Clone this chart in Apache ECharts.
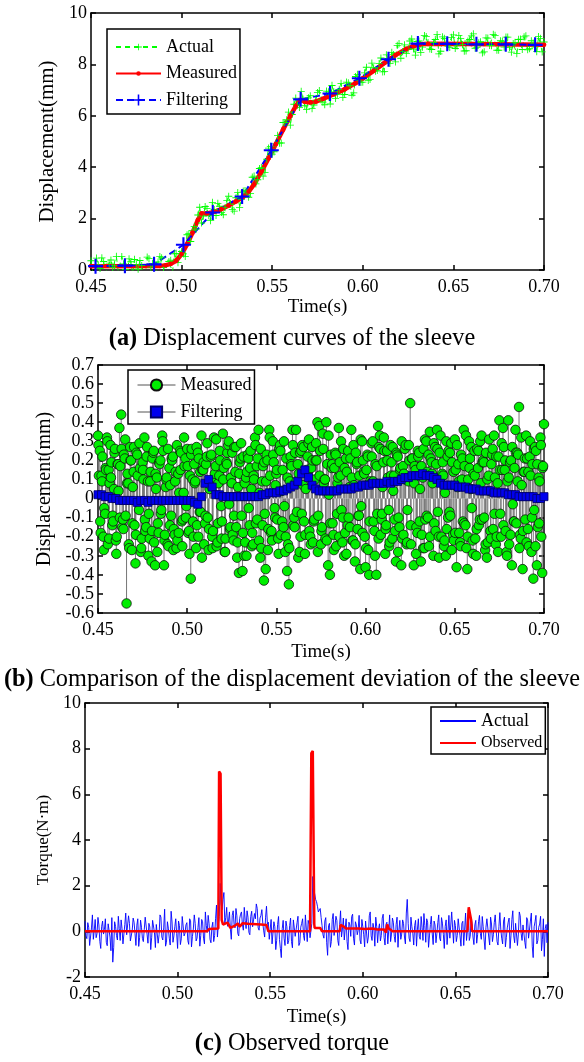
<!DOCTYPE html>
<html>
<head>
<meta charset="UTF-8">
<title>Sleeve displacement and observed torque</title>
<style>
  * { margin: 0; padding: 0; }
  html, body { width: 100%; height: 100%; background: #fff; overflow: hidden; }
  #main { width: 584px; height: 1062px; }
</style>
</head>
<body>
<div id="main"></div>
<script src="https://cdn.jsdelivr.net/npm/echarts@6/dist/echarts.min.js"></script>
<script>
// ---- (a) displacement curves ----
// actual displacement, one sample every 1 ms from 0.45 s
var actualDisp = [
  0.36, -0.11, -0.03, 0.46, 0.20, 0.06, 0.47, 0.33, -0.12, -0.19,
  0.27, 0.39, 0.10, 0.17, 0.53, -0.04, -0.07, 0.52, 0.24, 0.02,
  -0.16, 0.43, 0.32, -0.16, 0.41, 0.21, 0.03, 0.37, 0.17, -0.10,
  -0.20, 0.50, 0.44, 0.11, 0.26, -0.14, -0.04, 0.31, 0.52, 0.47,
  0.10, -0.01, -0.08, 0.33, 0.38, -0.08, 0.63, 0.65, 0.29, 0.63,
  0.72, 0.63, 0.53, 1.37, 1.41, 1.11, 1.54, 1.69, 1.59, 2.14,
  2.44, 1.83, 2.10, 2.47, 2.39, 2.11, 1.92, 2.63, 2.35, 2.12,
  2.59, 2.48, 2.24, 2.15, 2.43, 2.70, 2.87, 2.56, 2.35, 2.29,
  2.81, 3.01, 2.43, 2.75, 3.07, 3.09, 3.04, 2.83, 2.98, 3.61,
  3.65, 3.35, 3.51, 3.95, 3.98, 3.65, 3.79, 4.31, 4.74, 4.81,
  4.51, 4.60, 4.91, 5.24, 4.94, 4.94, 5.74, 5.74, 5.84, 6.14,
  5.64, 6.05, 6.45, 6.69, 6.41, 6.33, 6.95, 6.65, 6.39, 6.24,
  6.70, 6.78, 6.28, 6.42, 6.60, 6.90, 6.98, 6.62, 6.53, 6.43,
  6.96, 6.93, 6.46, 7.18, 6.93, 6.68, 6.84, 7.03, 7.26, 6.72,
  6.83, 7.31, 7.28, 7.17, 6.80, 6.89, 7.53, 7.61, 7.36, 7.30,
  7.31, 7.67, 7.89, 7.38, 7.42, 8.05, 7.87, 7.74, 7.77, 8.03,
  8.25, 7.71, 7.72, 8.37, 8.23, 8.04, 8.47, 8.38, 8.10, 8.74,
  8.81, 8.24, 8.50, 8.76, 8.42, 8.59, 8.91, 8.99, 8.60, 8.36,
  8.89, 8.91, 8.47, 8.67, 9.12, 9.08, 8.85, 8.60, 8.58, 8.86,
  8.97, 9.16, 8.41, 8.51, 9.07, 9.01, 8.82, 8.71, 8.66, 9.05,
  9.15, 8.62, 8.72, 9.12, 9.00, 8.77, 8.52, 8.53, 8.91, 8.97,
  9.11, 9.19, 8.63, 8.65, 8.84, 8.88, 8.45, 8.49, 9.03, 9.02,
  8.74, 8.73, 9.17, 9.13, 8.55, 8.55, 8.92, 8.90, 8.67, 9.06,
  9.06, 8.65, 8.48, 8.81, 8.86, 8.42, 8.97, 8.98, 8.58, 9.07,
  9.11, 8.57, 8.61, 8.92, 8.83, 8.67, 8.50, 9.08, 9.01, 8.49,
  8.87
];
// measured displacement [time, mm]
var measuredDisp = [
  [0.45, 0.15], [0.488, 0.16], [0.491, 0.18], [0.494, 0.24], [0.497, 0.36],
  [0.500, 0.62], [0.503, 1.0], [0.506, 1.45], [0.509, 1.95], [0.511, 2.2],
  [0.514, 2.2], [0.518, 2.26], [0.522, 2.37], [0.526, 2.51], [0.530, 2.67],
  [0.534, 2.85], [0.537, 3.05], [0.540, 3.33], [0.544, 3.82], [0.548, 4.35],
  [0.552, 4.9], [0.556, 5.46], [0.560, 6.0], [0.563, 6.38], [0.5655, 6.62],
  [0.568, 6.55], [0.571, 6.52], [0.574, 6.55], [0.578, 6.66], [0.584, 6.84],
  [0.590, 7.03], [0.596, 7.27], [0.600, 7.46], [0.606, 7.75], [0.612, 8.06],
  [0.618, 8.36], [0.624, 8.6], [0.628, 8.71], [0.632, 8.78], [0.636, 8.8],
  [0.660, 8.79], [0.700, 8.76]
];
// filtered displacement [time, mm]
var filterDisp = [
  [0.4525, 0.15], [0.4687, 0.17], [0.4848, 0.22], [0.5010, 0.98],
  [0.5172, 2.24], [0.5334, 2.86], [0.5495, 4.66], [0.5657, 6.64],
  [0.5819, 6.87], [0.5981, 7.46], [0.6142, 8.2], [0.6304, 8.81],
  [0.6466, 8.8], [0.6627, 8.78], [0.6789, 8.78], [0.6951, 8.76]
];

// ---- (b) displacement deviation ----
// measured deviation on whole milliseconds from 0.450 s
var devMeasured = [
  0.33, 0.25, 0.12, -0.20, -0.08, 0.32, 0.15, 0.28, -0.14, 0.05,
  -0.22, 0.18, 0.37, 0.44, -0.11, 0.21, -0.55, 0.08, 0.27, -0.27,
  0.14, -0.34, 0.23, -0.06, -0.28, 0.19, 0.32, -0.15, 0.09, -0.21,
  -0.33, 0.24, -0.35, 0.11, -0.18, 0.20, 0.33, -0.35, 0.06, -0.24,
  0.16, -0.09, 0.22, -0.19, -0.26, 0.13, 0.25, -0.12, 0.03, 0.21,
  0.26, -0.17, -0.42, 0.10, 0.18, -0.26, 0.24, -0.07, 0.33, 0.15,
  -0.13, 0.22, -0.27, 0.07, -0.20, 0.32, 0.17, -0.23, 0.12, -0.04,
  0.34, -0.28, 0.19, 0.28, -0.16, 0.08, -0.22, 0.14, -0.31, -0.39,
  0.21, -0.38, -0.30, 0.11, 0.23, -0.14, 0.05, -0.24, 0.32, 0.17,
  0.36, -0.31, 0.09, -0.43, -0.37, 0.20, 0.36, -0.18, 0.30, -0.05,
  0.13, -0.21, 0.28, 0.04, -0.15, -0.28, -0.38, -0.45, 0.22, 0.36,
  -0.10, 0.36, 0.18, -0.28, 0.25, 0.07, -0.29, 0.15, 0.29, -0.20,
  0.27, -0.12, 0.20, 0.40, 0.38, -0.24, 0.34, 0.10, 0.40, -0.35,
  -0.40, 0.16, -0.19, 0.24, -0.08, 0.37, 0.12, -0.23, -0.30, 0.21,
  -0.14, 0.06, 0.36, -0.22, -0.33, 0.18, -0.09, -0.37, 0.30, 0.14,
  -0.36, 0.23, -0.40, 0.08, 0.30, -0.17, -0.40, 0.38, 0.33, -0.11,
  0.19, -0.29, 0.25, -0.06, 0.28, -0.21, 0.12, -0.33, 0.22, -0.15,
  -0.35, 0.17, 0.26, -0.24, 0.09, 0.50, 0.21, -0.35, 0.15, -0.18,
  0.24, -0.33, 0.11, -0.26, 0.30, -0.10, 0.35, 0.19, -0.30, 0.27,
  0.36, -0.20, 0.33, 0.13, -0.25, -0.30, 0.22, -0.07, 0.29, -0.19,
  0.31, -0.36, 0.18, -0.23, 0.10, 0.36, -0.14, -0.37, 0.30, 0.05,
  -0.22, 0.25, -0.30, 0.16, -0.11, 0.33, 0.20, -0.27, -0.31, 0.12,
  -0.17, 0.23, 0.33, -0.24, 0.08, 0.41, -0.20, 0.37, 0.15, -0.28,
  0.41, 0.19, -0.35, -0.12, 0.36, 0.24, 0.48, -0.21, -0.37, 0.14,
  0.33, -0.16, 0.22, -0.28, -0.42, 0.27, -0.35, 0.11, 0.32, -0.39,
  0.39
];
// measured deviation a quarter millisecond later (from 0.45025 s)
var devMeasuredQ1 = [
  0.28, -0.12, 0.09, -0.27, 0.16, 0.30, -0.21, 0.11, -0.09, 0.24,
  -0.29, 0.18, -0.10, 0.26, -0.16, 0.31, 0.08, -0.24, 0.20, -0.13,
  0.27, -0.19, 0.12, 0.29, -0.26, 0.15, -0.11, 0.22, -0.30, 0.09,
  -0.17, 0.25, 0.13, -0.28, 0.19, -0.08, 0.30, -0.22, 0.10, 0.26,
  -0.14, 0.21, -0.27, 0.09, 0.28, -0.18, 0.15, -0.25, 0.32, -0.10,
  0.17, -0.29, 0.23, -0.12, 0.08, 0.27, -0.20, 0.14, -0.31, 0.19,
  -0.09, 0.29, -0.16, 0.22, -0.26, 0.11, 0.31, -0.13, 0.25, -0.21,
  0.10, -0.28, 0.18, 0.30, -0.15, 0.24, -0.09, 0.27, -0.23, 0.13,
  0.29, -0.18, 0.08, -0.30, 0.21, 0.16, -0.25, 0.12, 0.28, -0.11,
  -0.22, 0.26, -0.14, 0.19, 0.09, -0.27, 0.32, -0.17, 0.23, -0.10,
  0.15, -0.29, 0.25, -0.12, 0.30, -0.20, 0.11, -0.26, 0.18, 0.28,
  -0.15, 0.09, -0.31, 0.24, -0.08, 0.27, -0.19, 0.14, 0.31, -0.24,
  0.20, -0.11, 0.29, -0.28, 0.12, -0.17, 0.26, 0.10, -0.22, 0.33,
  -0.13, 0.18, -0.27, 0.23, 0.08, -0.20, 0.30, -0.10, 0.16, -0.29,
  0.25, -0.15, 0.11, 0.28, -0.24, 0.19, -0.09, 0.31, -0.18, 0.13,
  -0.26, 0.22, -0.12, 0.29, 0.09, -0.30, 0.17, -0.21, 0.26, -0.08,
  0.32, -0.16, 0.20, -0.25, 0.12, 0.27, -0.11, 0.24, -0.28, 0.15,
  0.30, -0.19, 0.10, -0.23, 0.28, -0.14, 0.21, 0.08, -0.29, 0.25,
  -0.12, 0.17, -0.26, 0.31, -0.09, 0.23, -0.20, 0.13, 0.29, -0.17,
  0.26, -0.31, 0.11, 0.19, -0.22, 0.30, -0.10, 0.24, -0.27, 0.14,
  -0.18, 0.28, 0.09, -0.25, 0.21, -0.13, 0.33, -0.20, 0.16, 0.27,
  -0.29, 0.12, -0.16, 0.25, 0.30, -0.11, 0.19, -0.24, 0.10, 0.31,
  -0.21, 0.26, -0.08, 0.22, -0.28, 0.15, 0.29, -0.14, 0.20, -0.30,
  0.11, -0.19, 0.27, -0.12, 0.24, 0.09, -0.26, 0.32, -0.17, 0.21,
  -0.23, 0.14, 0.30, -0.10, 0.26, -0.25, 0.18, -0.13, 0.28, 0.16
];
// measured deviation on half milliseconds (from 0.4505 s)
var devMeasuredHalf = [
  0.12, -0.18, 0.22, -0.05, 0.15, -0.24, 0.08, 0.19, -0.12, 0.26,
  -0.20, 0.04, 0.17, -0.15, 0.23, -0.09, 0.13, -0.26, 0.20, 0.06,
  -0.14, 0.24, -0.02, 0.16, -0.21, 0.10, -0.17, 0.27, -0.08, 0.14,
  0.21, -0.23, 0.05, -0.13, 0.18, -0.06, 0.25, -0.19, 0.11, -0.25,
  0.07, 0.20, -0.16, 0.14, -0.22, 0.03, 0.24, -0.11, 0.17, -0.04,
  -0.18, 0.12, 0.26, -0.20, 0.09, -0.14, 0.21, -0.07, 0.15, -0.24,
  0.18, -0.10, 0.05, 0.23, -0.17, 0.13, -0.25, 0.08, 0.20, -0.12,
  0.16, -0.21, 0.24, -0.03, 0.11, -0.19, 0.27, -0.15, 0.06, 0.19,
  -0.09, 0.22, -0.23, 0.14, -0.05, 0.25, -0.18, 0.10, -0.13, 0.21,
  0.03, -0.26, 0.17, -0.08, 0.23, -0.16, 0.12, -0.22, 0.19, 0.07,
  -0.11, 0.26, -0.19, 0.15, -0.04, 0.21, -0.24, 0.09, 0.17, -0.14,
  0.24, -0.07, 0.13, -0.20, 0.28, -0.12, 0.05, 0.22, -0.17, 0.16,
  -0.23, 0.10, 0.20, -0.09, 0.25, -0.15, 0.08, -0.21, 0.18, 0.02,
  0.23, -0.13, 0.16, -0.25, 0.11, 0.19, -0.06, 0.26, -0.18, 0.14,
  -0.10, 0.21, -0.22, 0.07, 0.24, -0.16, 0.12, -0.04, 0.20, -0.20,
  0.15, -0.27, 0.09, 0.22, -0.12, 0.18, -0.08, 0.27, -0.19, 0.06,
  0.25, -0.14, 0.11, -0.23, 0.19, 0.04, -0.17, 0.23, -0.10, 0.16,
  -0.21, 0.13, 0.28, -0.06, 0.20, -0.24, 0.10, 0.17, -0.15, 0.22,
  0.05, -0.19, 0.26, -0.11, 0.14, -0.25, 0.21, 0.08, -0.13, 0.18,
  -0.07, 0.24, -0.20, 0.12, 0.03, -0.16, 0.25, -0.09, 0.19, -0.22,
  0.15, 0.06, -0.18, 0.23, -0.12, 0.17, -0.26, 0.10, 0.21, -0.05,
  0.13, -0.21, 0.26, -0.14, 0.08, 0.19, -0.10, 0.24, -0.23, 0.04,
  0.18, -0.16, 0.11, -0.20, 0.22, -0.08, 0.15, 0.27, -0.17, 0.09,
  -0.24, 0.20, -0.03, 0.16, -0.13, 0.23, -0.19, 0.07, 0.14, -0.11,
  0.21, -0.25, 0.12, 0.18, -0.06, 0.25, -0.15, 0.09, -0.20, 0.17
];
// filtered deviation, every 2 ms from 0.45 s
var devFiltered = [
  0.02, 0.02, 0.01, 0.01, 0.00, 0.00, -0.01, -0.01, -0.01, -0.01,
  -0.01, -0.02, -0.01, -0.01, -0.02, -0.01, -0.01, -0.01, -0.01, -0.01,
  -0.01, -0.01, -0.01, -0.01, -0.01, -0.01, -0.01, -0.02, -0.03, 0.01,
  0.08, 0.10, 0.06, 0.02, 0.02, 0.01, 0.01, 0.01, 0.01, 0.01,
  0.01, 0.01, 0.01, 0.01, 0.01, 0.01, 0.02, 0.02, 0.03, 0.03,
  0.03, 0.04, 0.04, 0.05, 0.06, 0.07, 0.09, 0.13, 0.15, 0.11,
  0.07, 0.05, 0.04, 0.04, 0.04, 0.04, 0.04, 0.04, 0.05, 0.05,
  0.05, 0.05, 0.06, 0.06, 0.07, 0.07, 0.07, 0.08, 0.08, 0.08,
  0.08, 0.09, 0.08, 0.09, 0.09, 0.10, 0.11, 0.11, 0.12, 0.12,
  0.12, 0.13, 0.12, 0.12, 0.11, 0.10, 0.08, 0.07, 0.07, 0.07,
  0.07, 0.06, 0.06, 0.06, 0.05, 0.05, 0.05, 0.04, 0.04, 0.04,
  0.04, 0.03, 0.03, 0.03, 0.03, 0.02, 0.02, 0.02, 0.01, 0.01,
  0.01, 0.01, 0.01, 0.00, 0.00, 0.01
];

// ---- (c) torque ----
// actual torque on whole milliseconds from 0.450 s
var torqueActual = [
  0.45, -0.32, 0.18, -0.55, 0.72, 0.05, -0.28, 0.61, -0.44, 0.22,
  -0.12, 0.55, -0.63, 0.31, -0.85, -1.35, 0.42, -0.18, 0.66, -0.40,
  0.12, -0.58, 0.80, -0.22, 0.35, -0.47, 0.58, -0.10, 0.27, -0.66,
  0.49, -0.31, 0.08, 0.70, -0.52, 0.19, -0.26, 0.53, -0.71, 0.34,
  -0.15, 0.62, -0.38, 0.97, -0.48, 0.14, -0.60, 0.41, -0.20, 0.55,
  -0.75, 0.25, -0.33, 0.64, -0.09, 0.38, -0.57, 0.46, -0.23, 0.72,
  -0.42, 0.17, -0.65, 0.52, -0.30, 0.85, -0.05, 0.33, -0.50, 0.40,
  -0.18, 1.15, 0.28, 2.10, 0.95, 1.70, 0.60, 0.22, 0.85, -0.35,
  0.90, 0.15, 0.68, -0.20, 0.75, 0.30, 1.05, 0.12, 0.62, -0.15,
  0.88, 0.25, 0.55, 1.00, 0.05, 0.70, 0.35, -0.25, 1.10, 0.40,
  0.10, -0.55, 0.42, -0.80, 0.30, -0.35, -1.15, 0.48, -0.62, 0.20,
  -0.40, 0.58, -0.72, 0.15, -0.28, 0.66, -0.50, 0.35, -0.18, 0.72,
  -0.45, 0.30, -0.20, 2.40, 1.65, 1.30, 0.85, 1.00, 0.25, -0.30,
  0.60, -1.05, 0.35, -0.45, 0.78, -0.20, 0.48, -0.62, 0.90, 0.10,
  -0.38, 0.55, -0.80, 0.28, 0.65, -0.30, 0.42, -0.15, 0.70, -0.55,
  0.20, -0.68, 0.50, -0.25, 0.85, -0.40, 0.12, 0.62, -0.50, 0.33,
  -0.18, 0.75, -0.60, 0.40, 0.05, -0.45, 0.58, -0.22, 0.30, -0.70,
  0.48, -0.12, 0.35, -0.55, 1.40, -0.30, 0.62, -0.08, 0.25, -0.65,
  0.55, -0.35, 0.18, 0.78, -0.48, 0.40, -0.20, 0.66, -0.58, 0.28,
  -0.10, 0.72, -0.42, 0.36, -0.75, 0.50, 0.02, -0.30, 0.85, -0.52,
  0.25, -0.18, 0.62, -0.65, 0.44, 0.10, -0.40, 0.95, -0.22, 0.35,
  -0.58, 0.48, -0.15, 0.70, -0.35, 0.20, -0.80, 0.55, -0.25, 0.62,
  -0.45, 0.38, 0.05, -0.60, 0.82, -0.30, 0.45, -0.68, 0.15, 0.58,
  -0.20, 0.90, -0.50, 0.32, -0.12, 0.68, -0.40, 0.25, -0.75, 0.50,
  -0.28, 0.80, -1.15, 0.42, -0.55, 0.18, 0.66, -0.35, -1.10, 0.30,
  0.40
];
// actual torque on half milliseconds from 0.4505 s
var torqueActualHalf = [
  -0.20, 0.38, -0.62, 0.15, -0.35, 0.52, -0.10, 0.28, -0.75, 0.45,
  0.08, -0.48, 0.33, -0.25, 0.60, -0.70, 0.22, -0.38, 0.12, 0.50,
  -0.55, 0.30, -0.15, 0.68, -0.42, 0.05, 0.40, -0.62, 0.55, -0.28,
  0.18, -0.45, 0.62, -0.12, 0.35, -0.80, 0.48, -0.05, 0.30, -0.52,
  0.72, -0.25, 0.15, -0.65, 0.42, -0.30, 0.88, -0.48, 0.20, -0.10,
  0.45, -0.58, 0.65, -0.20, 0.28, -0.40, 0.55, -0.68, 0.10, 0.35,
  -0.30, 0.60, -0.18, 0.42, -0.55, 0.25, 0.70, -0.35, 0.18, -0.45,
  0.55, -0.25, 0.65, 1.20, 1.40, 0.35, 1.05, 0.45, 0.10, 0.70,
  0.30, 1.00, -0.10, 0.55, 0.85, 0.05, 0.48, 0.90, -0.05, 0.65,
  0.20, 0.78, 1.20, 0.15, 0.58, 0.95, 0.02, 0.62, 0.30, -0.35,
  0.52, -0.60, 0.20, -0.40, 0.65, -0.75, 0.12, -0.30, 0.45, -0.55,
  0.25, -0.45, 0.50, -0.22, 0.38, -0.62, 0.18, 0.55, -0.40, 0.10,
  0.48, -0.28, 0.35, 1.80, 1.40, 1.10, 0.90, 0.60, -0.15, 0.45,
  -0.50, 0.25, -0.70, 0.52, -0.18, 0.66, -0.40, 0.30, -0.25, 0.58,
  0.12, -0.45, 0.40, -0.22, 0.75, -0.60, 0.28, 0.05, -0.38, 0.52,
  -0.15, 0.45, -0.52, 0.68, -0.20, 0.35, -0.65, 0.22, 0.10, -0.42,
  0.58, -0.28, 0.30, -0.55, 0.72, -0.12, 0.40, -0.48, 0.62, 0.05,
  -0.35, 0.50, -0.25, 0.80, 0.35, -0.45, 0.20, -0.60, 0.48, 0.10,
  -0.22, 0.65, -0.40, 0.25, 0.55, -0.70, 0.30, -0.12, 0.45, -0.50,
  0.38, -0.30, 0.60, -0.15, 0.22, -0.58, 0.70, -0.35, 0.15, 0.48,
  -0.45, 0.55, -0.20, 0.35, -0.62, 0.80, 0.05, -0.40, 0.60, -0.25,
  0.28, -0.52, 0.42, -0.10, 0.65, -0.38, 0.18, 0.50, -0.60, 0.32,
  -0.15, 0.72, -0.45, 0.22, 0.10, -0.55, 0.62, -0.28, 0.40, -0.75,
  0.52, -0.20, 0.35, -0.62, 0.85, -0.10, 0.28, -0.48, 0.60, -0.30,
  0.45, -0.65, 0.20, 0.70, -0.40, 0.32, -0.85, 0.55, 0.12, -0.50
];
// observed torque [time, N·m]
var torqueObserved = [
  [0.45, 0], [0.516, 0], [0.517, 0.1], [0.522, 0.12], [0.5224, 7.0],
  [0.5232, 6.9], [0.5238, 0.5], [0.5245, 0.3], [0.527, 0.38], [0.5285, 0.15],
  [0.531, 0.25], [0.5325, 0.35], [0.5335, 0.2], [0.535, 0.35], [0.538, 0.33],
  [0.545, 0.3], [0.548, 0.28], [0.549, 0], [0.5715, 0], [0.5722, 7.8],
  [0.5730, 7.9], [0.5738, 0.3], [0.574, 0.15], [0.577, 0.15], [0.578, 0],
  [0.5875, 0], [0.588, 0.28], [0.5895, 0.22], [0.591, 0.12], [0.598, 0.12],
  [0.601, 0.1], [0.605, 0.12], [0.608, 0.08], [0.6115, 0.08], [0.6125, -0.05],
  [0.6132, 0.3], [0.614, 0.12], [0.616, 0], [0.6565, 0], [0.6572, 1.05],
  [0.6585, 0.5], [0.659, 0], [0.70, 0]
];

var FONT = 'Liberation Serif';

// pair regularly sampled values with their sample times
function withTime(values, step, start) {
  var t0 = start === undefined ? 0.45 : start;
  return values.map(function(v, i) {
    return [+(t0 + i * step).toFixed(5), v];
  });
}
function byTime(a, b) { return a[0] - b[0]; }

var devPoints = withTime(devMeasured, 0.001)
  .concat(withTime(devMeasuredQ1, 0.001, 0.45025), withTime(devMeasuredHalf, 0.001, 0.4505))
  .sort(byTime);
var torquePoints = withTime(torqueActual, 0.001)
  .concat(withTime(torqueActualHalf, 0.001, 0.4505)).sort(byTime);

// symbols: padded paths so legend and plot marks keep their relative size
var plusSmall = 'path://M0,0M20,20M9.3,4H10.7V16H9.3Z M4,9.3H16V10.7H4Z';
var plusBig = 'path://M8.6,0H11.4V20H8.6Z M0,8.6H20V11.4H0Z';
var dot = 'path://M0,0M20,20M6,10A4,4 0 1 1 14,10A4,4 0 1 1 6,10Z';

var blk = { color: '#000', width: 1.5 };

// bottom/left axes with labels plus mirrored top/right axes (MATLAB box)
function box(g, y, xGap, yName, yGap, yNameSize) {
  var tick = { inside: true, length: 5, lineStyle: blk };
  var xs = [{
    type: 'value', gridIndex: g, min: 0.45, max: 0.70, interval: 0.05,
    position: 'bottom',
    axisLine: { onZero: false, lineStyle: blk }, axisTick: tick,
    splitLine: { show: false },
    axisLabel: { color: '#000', fontFamily: FONT, fontSize: 18, margin: 8,
      formatter: function(v) { return v.toFixed(2); } },
    name: 'Time(s)', nameLocation: 'middle', nameGap: xGap,
    nameTextStyle: { color: '#000', fontFamily: FONT, fontSize: 19 }
  }, {
    type: 'value', gridIndex: g, min: 0.45, max: 0.70, interval: 0.05,
    position: 'top',
    axisLine: { onZero: false, lineStyle: blk }, axisTick: tick,
    splitLine: { show: false }, axisLabel: { show: false }
  }];
  var ys = [{
    type: 'value', gridIndex: g, min: y[0], max: y[1], interval: y[2],
    position: 'left',
    axisLine: { onZero: false, lineStyle: blk }, axisTick: tick,
    splitLine: { show: false },
    axisLabel: { color: '#000', fontFamily: FONT, fontSize: 18, margin: 4 },
    name: yName, nameLocation: 'middle', nameGap: yGap,
    nameTextStyle: { color: '#000', fontFamily: FONT, fontSize: yNameSize }
  }, {
    type: 'value', gridIndex: g, min: y[0], max: y[1], interval: y[2],
    position: 'right',
    axisLine: { onZero: false, lineStyle: blk }, axisTick: tick,
    splitLine: { show: false }, axisLabel: { show: false }
  }];
  return { x: xs, y: ys };
}

var boxA = box(0, [0, 10, 2], 28, 'Displacement(mm)', 21, 21);
var boxB = box(1, [-0.6, 0.7, 0.1], 30, 'Displacement(mm)', 39, 20);
var boxC = box(2, [-2, 10, 2], 31, 'Torque(N·m)', 19, 17);

function legendBox(left, top, pad, itemWidth, gap, data) {
  return {
    left: left, top: top, orient: 'vertical', padding: pad,
    itemWidth: itemWidth, itemHeight: 14, itemGap: gap,
    backgroundColor: '#fff', borderColor: '#000', borderWidth: 1.5,
    borderRadius: 0, selectedMode: false,
    formatter: function(n) { return n.slice(2); },
    textStyle: { color: '#000', fontFamily: FONT, fontSize: 18 },
    data: data
  };
}

var chart = echarts.init(document.getElementById('main'));
var capStyle = {
  fontFamily: FONT, fontSize: 24.3, fontWeight: 'normal', color: '#000',
  rich: { b: { fontFamily: FONT, fontSize: 24.3, fontWeight: 'bold', color: '#000' } }
};

chart.setOption({
  animation: false,
  backgroundColor: '#fff',
  title: [
    { text: '{b|(a)} Displacement curves of the sleeve', left: 'center', top: 327, padding: 0, textStyle: capStyle },
    { text: '{b|(b)} Comparison of the displacement deviation of the sleeve', left: 'center', top: 668, padding: 0, textStyle: capStyle },
    { text: '{b|(c)} Observed torque', left: 'center', top: 1032, padding: 0, textStyle: capStyle }
  ],
  grid: [
    { left: 91, top: 13, width: 453, height: 257 },
    { left: 98, top: 365, width: 446, height: 248 },
    { left: 85, top: 703, width: 463, height: 274 }
  ],
  xAxis: boxA.x.concat(boxB.x, boxC.x),
  yAxis: boxA.y.concat(boxB.y, boxC.y),
  legend: [
    legendBox(107, 29, [9, 3, 5, 8], 45, 8.5, ['a-Actual', 'a-Measured', 'a-Filtering']),
    legendBox(128, 370, [6, 3, 3, 9], 38, 9, [
      { name: 'b-Measured', lineStyle: { color: '#555', width: 1, opacity: 1, type: 'solid' } },
      { name: 'b-Filtering', lineStyle: { color: '#555', width: 1, opacity: 1, type: 'solid' } }
    ]),
    legendBox(431, 707, [5, 3, 3, 8], 36, 5, [
      { name: 'c-Actual', itemStyle: { opacity: 0 } },
      { name: 'c-Observed', itemStyle: { opacity: 0 }, textStyle: { fontSize: 16 } }
    ])
  ],
  series: [
    // (a)
    {
      name: 'a-Actual', type: 'line', xAxisIndex: 0, yAxisIndex: 0,
      data: withTime(actualDisp, 0.001),
      lineStyle: { color: '#00ff00', width: 1, type: [5, 4] },
      symbol: plusSmall, symbolSize: 12, itemStyle: { color: '#00ff00' }
    },
    {
      name: 'a-Measured', type: 'line', xAxisIndex: 0, yAxisIndex: 0,
      data: measuredDisp,
      lineStyle: { color: '#ff0000', width: 4.5 },
      symbol: dot, symbolSize: 12, itemStyle: { color: '#ff0000' }
    },
    {
      name: 'a-Filtering', type: 'line', xAxisIndex: 0, yAxisIndex: 0,
      data: filterDisp,
      lineStyle: { color: '#0000ff', width: 2, type: [7, 4] },
      symbol: plusBig, symbolSize: 15, itemStyle: { color: '#0000ff' }
    },
    // (b) stems, then markers
    {
      name: 'b-stem', type: 'bar', xAxisIndex: 2, yAxisIndex: 2,
      data: devPoints, barWidth: 0.8, silent: true,
      itemStyle: { color: '#777' }
    },
    {
      name: 'b-Measured', type: 'line', xAxisIndex: 2, yAxisIndex: 2,
      data: devPoints,
      lineStyle: { opacity: 0 },
      symbol: 'circle', symbolSize: 9.5,
      itemStyle: { color: '#00ee00', borderColor: '#111', borderWidth: 0.8 }
    },
    {
      name: 'b-Filtering', type: 'line', xAxisIndex: 2, yAxisIndex: 2,
      data: withTime(devFiltered, 0.002),
      lineStyle: { opacity: 0 },
      symbol: 'rect', symbolSize: 8,
      itemStyle: { color: '#0000ee', borderColor: '#000066', borderWidth: 0.8 }
    },
    // (c)
    {
      name: 'c-Actual', type: 'line', xAxisIndex: 4, yAxisIndex: 4,
      data: torquePoints,
      lineStyle: { color: '#0000ff', width: 0.9 }, symbol: 'none'
    },
    {
      name: 'c-Observed', type: 'line', xAxisIndex: 4, yAxisIndex: 4,
      data: torqueObserved,
      lineStyle: { color: '#ff0000', width: 2.5 }, symbol: 'none'
    }
  ]
});
</script>
</body>
</html>
